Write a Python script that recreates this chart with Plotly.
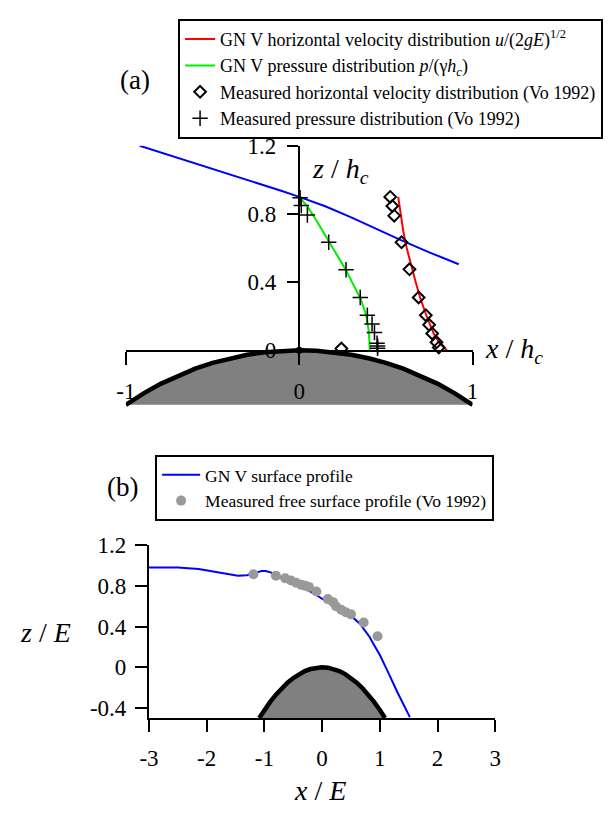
import plotly.graph_objects as go

W, H = 612, 816
FONT = "Liberation Serif"

# ---------------- Panel (a) data (x/h_c, z/h_c) ----------------
surf_a_x = [-0.92, -0.7, -0.5, -0.3, -0.1, 0.0, 0.15, 0.3, 0.45, 0.59, 0.75, 0.92]
surf_a_z = [1.20, 1.13, 1.065, 1.0, 0.935, 0.90, 0.845, 0.78, 0.71, 0.645, 0.575, 0.505]

vel_gn_x = [0.571, 0.585, 0.60, 0.62, 0.645, 0.672, 0.70, 0.735, 0.775, 0.81, 0.852]
vel_gn_z = [0.90, 0.80, 0.70, 0.60, 0.50, 0.40, 0.30, 0.20, 0.10, 0.04, 0.0]

pres_gn_x = [0.0, 0.05, 0.10, 0.17, 0.22, 0.27, 0.31, 0.355, 0.385, 0.40, 0.405, 0.406]
pres_gn_z = [0.90, 0.84, 0.76, 0.64, 0.56, 0.47, 0.39, 0.30, 0.21, 0.12, 0.05, 0.0]

vel_meas_x = [0.525, 0.537, 0.548, 0.59, 0.636, 0.689, 0.73, 0.749, 0.767, 0.792, 0.805, 0.243]
vel_meas_z = [0.90, 0.847, 0.79, 0.634, 0.475, 0.31, 0.206, 0.15, 0.099, 0.047, 0.017, 0.01]

pres_meas_x = [0.005, 0.012, 0.047, 0.17, 0.27, 0.352, 0.393, 0.42, 0.434, 0.449, 0.452, 0.452]
pres_meas_z = [0.895, 0.85, 0.794, 0.634, 0.473, 0.31, 0.206, 0.155, 0.104, 0.042, 0.025, 0.012]

origin_x = [0.0]
origin_z = [0.0]

weir_a_x = [-1.0, -0.9, -0.8, -0.7, -0.6, -0.5, -0.4, -0.3, -0.2, -0.1, 0.0,
            0.1, 0.2, 0.3, 0.4, 0.5, 0.6, 0.7, 0.8, 0.9, 1.0]
weir_a_z = [-0.320, -0.254, -0.197, -0.149, -0.108, -0.074, -0.047, -0.026, -0.012, -0.003, 0.0,
            -0.003, -0.012, -0.026, -0.047, -0.074, -0.108, -0.149, -0.197, -0.254, -0.320]
weir_a_base = -0.32

# ---------------- Panel (b) data (x/E, z/E) ----------------
surf_b_x = [-3.0, -2.5, -2.14, -1.8, -1.46, -1.3, -1.18, -1.05, -0.98, -0.88, -0.79, -0.6,
            -0.34, -0.1, 0.11, 0.3, 0.51, 0.65, 0.73, 0.82, 0.9, 1.0, 1.12, 1.3, 1.52]
surf_b_z = [0.98, 0.98, 0.965, 0.935, 0.90, 0.905, 0.925, 0.945, 0.945, 0.93, 0.90, 0.855,
            0.79, 0.71, 0.63, 0.565, 0.50, 0.43, 0.37, 0.30, 0.22, 0.12, -0.02, -0.24, -0.49]

meas_b_x = [-1.19, -0.80, -0.64, -0.54, -0.45, -0.36, -0.29, -0.23, -0.10, 0.10, 0.19, 0.24,
            0.33, 0.41, 0.50, 0.72, 0.96]
meas_b_z = [0.914, 0.90, 0.875, 0.853, 0.83, 0.81, 0.80, 0.79, 0.745, 0.67, 0.64, 0.60,
            0.565, 0.54, 0.52, 0.44, 0.305]

weir_b_x = [-1.09, -1.0, -0.9, -0.8, -0.7, -0.6, -0.5, -0.4, -0.3, -0.2, -0.1, 0.0,
            0.1, 0.2, 0.3, 0.4, 0.5, 0.6, 0.7, 0.8, 0.9, 1.0, 1.09]
weir_b_z = [-0.499, -0.42, -0.340, -0.269, -0.206, -0.151, -0.105, -0.067, -0.038, -0.017, -0.004, 0.0,
            -0.004, -0.017, -0.038, -0.067, -0.105, -0.151, -0.206, -0.269, -0.340, -0.42, -0.499]
weir_b_base = -0.5

ticks_a_x = [-1, 0, 1]
ticks_a_z = [0, 0.4, 0.8, 1.2]
ticks_b_x = [-3, -2, -1, 0, 1, 2, 3]
ticks_b_z = [-0.4, 0, 0.4, 0.8, 1.2]


def fx(p):
    return p / W


def fy(p):
    return 1 - p / H


fig = go.Figure()

# --- obstacle (a), hidden axes x/y ---
fig.add_trace(go.Scatter(x=weir_a_x + [weir_a_x[-1], weir_a_x[0]],
                         y=weir_a_z + [weir_a_base, weir_a_base],
                         mode="lines", fill="toself", fillcolor="#808080",
                         line=dict(width=0, color="#808080"), showlegend=False,
                         hoverinfo="skip", xaxis="x", yaxis="y"))
fig.add_trace(go.Scatter(x=weir_a_x, y=weir_a_z, mode="lines",
                         line=dict(color="black", width=4.5), showlegend=False,
                         xaxis="x", yaxis="y", cliponaxis=False))

# --- main (a) ---
fig.add_trace(go.Scatter(x=surf_a_x, y=surf_a_z, mode="lines",
                         line=dict(color="#0000ff", width=2), showlegend=False,
                         xaxis="x2", yaxis="y2", cliponaxis=False))
fig.add_trace(go.Scatter(x=vel_gn_x, y=vel_gn_z, mode="lines",
                         line=dict(color="#ff0000", width=2),
                         name="GN V horizontal velocity distribution <i>u</i>/(2<i>gE</i>)<sup>1/2</sup>",
                         legend="legend", legendgroup="a1",
                         xaxis="x2", yaxis="y2", cliponaxis=False))
fig.add_trace(go.Scatter(x=pres_gn_x, y=pres_gn_z, mode="lines",
                         line=dict(color="#00ee00", width=2),
                         name="GN V pressure distribution <i>p</i>/(γ<i>h</i><sub><i>c</i></sub>)",
                         legend="legend", legendgroup="a2",
                         xaxis="x2", yaxis="y2", cliponaxis=False))
fig.add_trace(go.Scatter(x=vel_meas_x, y=vel_meas_z, mode="markers",
                         marker=dict(symbol="diamond-open", size=9, color="black",
                                     line=dict(width=2, color="black")),
                         name="Measured horizontal velocity distribution (Vo 1992)",
                         legend="legend", legendgroup="a3",
                         xaxis="x2", yaxis="y2", cliponaxis=False))
fig.add_trace(go.Scatter(x=pres_meas_x, y=pres_meas_z, mode="markers",
                         marker=dict(symbol="cross-thin", size=11, color="black",
                                     line=dict(width=1.5, color="black")),
                         name="Measured pressure distribution (Vo 1992)",
                         legend="legend", legendgroup="a4",
                         xaxis="x2", yaxis="y2", cliponaxis=False))
fig.add_trace(go.Scatter(x=origin_x, y=origin_z, mode="markers",
                         marker=dict(size=7, color="black"), showlegend=False,
                         xaxis="x2", yaxis="y2", cliponaxis=False))

# --- panel (b) ---
fig.add_trace(go.Scatter(x=weir_b_x + [weir_b_x[-1], weir_b_x[0]],
                         y=weir_b_z + [weir_b_base, weir_b_base],
                         mode="lines", fill="toself", fillcolor="#808080",
                         line=dict(width=0, color="#808080"), showlegend=False,
                         hoverinfo="skip", xaxis="x3", yaxis="y3"))
fig.add_trace(go.Scatter(x=weir_b_x, y=weir_b_z, mode="lines",
                         line=dict(color="black", width=4.5), showlegend=False,
                         xaxis="x3", yaxis="y3", cliponaxis=False))
fig.add_trace(go.Scatter(x=surf_b_x, y=surf_b_z, mode="lines",
                         line=dict(color="#0000ff", width=2),
                         name="GN V surface profile", legend="legend2", legendgroup="b1",
                         xaxis="x3", yaxis="y3", cliponaxis=False))
fig.add_trace(go.Scatter(x=meas_b_x, y=meas_b_z, mode="markers",
                         marker=dict(size=10, color="#999999"),
                         name="Measured free surface profile (Vo 1992)",
                         legend="legend2", legendgroup="b2",
                         xaxis="x3", yaxis="y3", cliponaxis=False))

tickfont = dict(family=FONT, size=23, color="black")
axis_common = dict(showgrid=False, zeroline=False, showline=True, linecolor="black",
                   linewidth=2, ticks="outside", tickwidth=2, tickcolor="black",
                   tickfont=tickfont)

xa_dom = [fx(119), fx(475)]
fig.update_layout(
    width=W, height=H, autosize=False,
    margin=dict(l=0, r=0, t=0, b=0),
    paper_bgcolor="white", plot_bgcolor="rgba(0,0,0,0)",
    font=dict(family=FONT, color="black"),
    xaxis=dict(domain=xa_dom, range=[-1, 1], visible=False, anchor="y"),
    yaxis=dict(domain=[fy(475), fy(138)], range=[-(475 - 349) / 175.8, 1.2],
               visible=False, anchor="x"),
    xaxis2=dict(domain=xa_dom, range=[-1, 1], anchor="y2",
                tickvals=ticks_a_x, ticktext=[str(v) for v in ticks_a_x],
                ticklen=13, ticklabelstandoff=6, **axis_common),
    yaxis2=dict(domain=[fy(349), fy(138)], range=[0, 1.2], anchor="free",
                position=fx(296.7), tickvals=ticks_a_z,
                ticktext=["0", "0.4", "0.8", "1.2"], ticklen=11,
                ticklabelstandoff=6, **axis_common),
    xaxis3=dict(domain=[fx(142.7), fx(498.3)], range=[-3, 3], anchor="y3",
                tickvals=ticks_b_x, ticktext=[str(v) for v in ticks_b_x],
                ticklen=12, ticklabelstandoff=6, **axis_common),
    yaxis3=dict(domain=[fy(728.5), fy(550)], range=[-0.5, 1.2], anchor="x3",
                tickvals=ticks_b_z, ticktext=["-0.4", "0", "0.4", "0.8", "1.2"],
                ticklen=12, ticklabelstandoff=4, **axis_common),
    legend=dict(x=fx(609), xanchor="right", y=fy(7), yanchor="top",
                bgcolor="white", bordercolor="black", borderwidth=2,
                font=dict(family=FONT, size=18, color="black"),
                traceorder="grouped", tracegroupgap=0),
    legend2=dict(x=fx(149), xanchor="left", y=fy(457), yanchor="top",
                 bgcolor="white", bordercolor="black", borderwidth=2,
                 font=dict(family=FONT, size=17.5, color="black"),
                 traceorder="grouped", tracegroupgap=0, itemwidth=38),
)


def label(text, xp, yp, xanchor="center", size=28):
    fig.add_annotation(x=fx(xp), y=fy(yp), xref="paper", yref="paper", text=text,
                       xanchor=xanchor, yanchor="middle", showarrow=False,
                       font=dict(family=FONT, size=size, color="black"))


label("(a)", 128, 70, size=27)
label("(b)", 116, 490, size=27)
label("<i>z</i> / <i>h</i><sub><i>c</i></sub>", 339, 164)
label("<i>x</i> / <i>h</i><sub><i>c</i></sub>", 486, 349, xanchor="left")
label("<i>z</i> / <i>E</i>", 36, 640)
label("<i>x</i> / <i>E</i>", 318, 803)

fig.write_html("out.html")
